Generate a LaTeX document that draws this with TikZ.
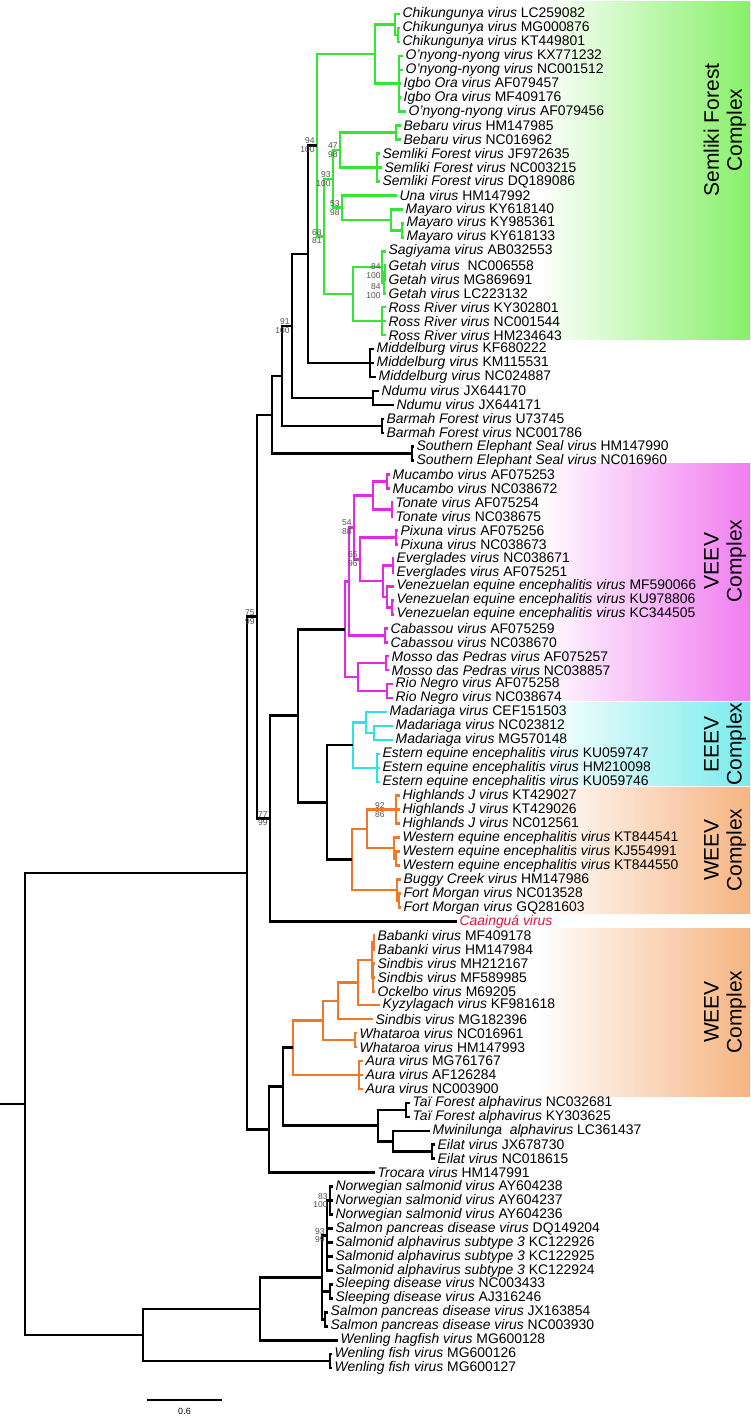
\documentclass[tikz,border=0pt]{standalone}
\usepackage{fontspec}
\setmainfont{Liberation Sans}
\usetikzlibrary{calc}

\definecolor{sfgreen}{RGB}{50,230,50}
\definecolor{veevpink}{RGB}{228,40,228}
\definecolor{eeevcyan}{RGB}{40,228,228}
\definecolor{weevorange}{RGB}{240,120,40}
\definecolor{newred}{RGB}{215,25,60}
\definecolor{sfbox}{RGB}{135,240,105}
\definecolor{veevbox}{RGB}{240,125,240}
\definecolor{eeevbox}{RGB}{120,235,235}
\definecolor{weevbox}{RGB}{245,180,130}
\definecolor{bootgray}{RGB}{80,80,80}

% clade: [colour]{name}{x}{first child}{last child}
\newcommand{\clade}[5][black]{%
  \path let \p1=(#4), \p2=(#5) in (#3pt, {0.5*\y1+0.5*\y2}) coordinate (#2);
  \draw[branch, #1] (#4) -| (#2) |- (#5);
}
% extra child of a clade
\newcommand{\twig}[3][black]{\draw[branch, #1] (#2 |- #3) -- (#3);}
% support values on the stem of a clade
\newcommand{\boot}[4][]{%
  \node[boot, anchor=south east, #1] (#2top) at (#2) {#3};
  \node[boot, anchor=north east, #1] (#2bot) at (#2) {#4};
}

\begin{document}
\begin{tikzpicture}[
    x=1pt, y=-1pt,
    branch/.style={line width=2.6pt},
    leaf/.style={anchor=west, inner sep=2.5pt, font=\fontsize{13.9}{14}\selectfont},
    boot/.style={inner sep=1.2pt, xshift=-1pt, text=bootgray, font=\fontsize{8.5}{9}\selectfont},
    cplx/.style={rotate=90, align=center, inner sep=0pt, font=\fontsize{21}{23}\selectfont}
]
    \useasboundingbox (0,0) rectangle (750,1418);

    % Complex boxes
    \shade[left color=white, right color=sfbox] (537,2) rectangle (750,339);
    \shade[left color=white, right color=veevbox] (537,463) rectangle (750,700);
    \shade[left color=white, right color=eeevbox] (537,702) rectangle (750,785);
    \shade[left color=white, right color=weevbox] (537,787) rectangle (750,913);
    \shade[left color=white, right color=weevbox] (537,928) rectangle (750,1096);

    \node[cplx] (sflab) at (725,130) {Semliki Forest\\Complex};
    \node[cplx] (veevlab) at (725,561) {VEEV\\Complex};
    \node[cplx] (eeevlab) at (725,744) {EEEV\\Complex};
    \node[cplx] (weevlab) at (725,850) {WEEV\\Complex};
    \node[cplx] (weevlabb) at (725,1012) {WEEV\\Complex};

    % Tips
    \foreach \i/\tx/\sp/\acc in {
        1/400/Chikungunya virus/LC259082,
        2/400/Chikungunya virus/MG000876,
        3/400/Chikungunya virus/KT449801,
        4/403/O’nyong-nyong virus/KX771232,
        5/403/O’nyong-nyong virus/NC001512,
        6/401/Igbo Ora virus/AF079457,
        7/401/Igbo Ora virus/MF409176,
        8/406/O’nyong-nyong virus/AF079456,
        9/401/Bebaru virus/HM147985,
        10/401/Bebaru virus/NC016962,
        11/380/Semliki Forest virus/JF972635,
        12/382/Semliki Forest virus/NC003215,
        13/380/Semliki Forest virus/DQ189086,
        14/397/Una virus/HM147992,
        15/403/Mayaro virus/KY618140,
        16/404/Mayaro virus/KY985361,
        17/404/Mayaro virus/KY618133,
        18/386/Sagiyama virus/AB032553,
        19/386/Getah virus/\ NC006558,
        20/386/Getah virus/MG869691,
        21/386/Getah virus/LC223132,
        22/386/Ross River virus/KY302801,
        23/386/Ross River virus/NC001544,
        24/386/Ross River virus/HM234643,
        25/374/Middelburg virus/KF680222,
        26/374/Middelburg virus/KM115531,
        27/376/Middelburg virus/NC024887,
        28/379/Ndumu virus/JX644170,
        29/394/Ndumu virus/JX644171,
        30/384/Barmah Forest virus/U73745,
        31/384/Barmah Forest virus/NC001786,
        32/414/Southern Elephant Seal virus/HM147990,
        33/414/Southern Elephant Seal virus/NC016960,
        34/390/Mucambo virus/AF075253,
        35/390/Mucambo virus/NC038672,
        36/393/Tonate virus/AF075254,
        37/393/Tonate virus/NC038675,
        38/398/Pixuna virus/AF075256,
        39/398/Pixuna virus/NC038673,
        40/394/Everglades virus/NC038671,
        41/394/Everglades virus/AF075251,
        42/394/Venezuelan equine encephalitis virus/MF590066,
        43/394/Venezuelan equine encephalitis virus/KU978806,
        44/394/Venezuelan equine encephalitis virus/KC344505,
        45/388/Cabassou virus/AF075259,
        46/388/Cabassou virus/NC038670,
        47/389/Mosso das Pedras virus/AF075257,
        48/389/Mosso das Pedras virus/NC038857,
        49/393/Rio Negro virus/AF075258,
        50/393/Rio Negro virus/NC038674,
        51/387/Madariaga virus/CEF151503,
        52/393/Madariaga virus/NC023812,
        53/393/Madariaga virus/MG570148,
        54/380/Estern equine encephalitis virus/KU059747,
        55/380/Estern equine encephalitis virus/HM210098,
        56/380/Estern equine encephalitis virus/KU059746,
        57/400/Highlands J virus/KT429027,
        58/400/Highlands J virus/KT429026,
        59/400/Highlands J virus/NC012561,
        60/400/Western equine encephalitis virus/KT844541,
        61/400/Western equine encephalitis virus/KJ554991,
        62/400/Western equine encephalitis virus/KT844550,
        63/401/Buggy Creek virus/HM147986,
        64/401/Fort Morgan virus/NC013528,
        65/401/Fort Morgan virus/GQ281603,
        67/375/Babanki virus/MF409178,
        68/375/Babanki virus/HM147984,
        69/375/Sindbis virus/MH212167,
        70/375/Sindbis virus/MF589985,
        71/375/Ockelbo virus/M69205,
        72/380/Kyzylagach virus/KF981618,
        73/373/Sindbis virus/MG182396,
        74/357/Whataroa virus/NC016961,
        75/357/Whataroa virus/HM147993,
        76/363/Aura virus/MG761767,
        77/363/Aura virus/AF126284,
        78/363/Aura virus/NC003900,
        79/410/Taï Forest alphavirus/NC032681,
        80/410/Taï Forest alphavirus/KY303625,
        81/430/Mwinilunga\ \ alphavirus/LC361437,
        82/435/Eilat virus/JX678730,
        83/435/Eilat virus/NC018615,
        84/375/Trocara virus/HM147991,
        85/333/Norwegian salmonid virus/AY604238,
        86/333/Norwegian salmonid virus/AY604237,
        87/333/Norwegian salmonid virus/AY604236,
        88/333/Salmon pancreas disease virus/DQ149204,
        89/333/Salmonid alphavirus subtype 3/KC122926,
        90/333/Salmonid alphavirus subtype 3/KC122925,
        91/333/Salmonid alphavirus subtype 3/KC122924,
        92/333/Sleeping disease virus/NC003433,
        93/333/Sleeping disease virus/AJ316246,
        94/328/Salmon pancreas disease virus/JX163854,
        95/328/Salmon pancreas disease virus/NC003930,
        96/338/Wenling hagfish virus/MG600128,
        97/332/Wenling fish virus/MG600126,
        98/332/Wenling fish virus/MG600127}{
        \pgfmathsetmacro{\ly}{14+(\i-1)*13.96}
        \coordinate (l\i) at (\tx,\ly);
        \node[leaf] (lab\i) at (l\i) {\textit{\sp} \acc};
    }
    \coordinate (l66) at (457,921.4);
    \node[leaf, text=newred] (lab66) at (l66) {\textit{Caainguá virus}};

    % Semliki Forest complex
    \clade[sfgreen]{cCHKb}{398}{l2}{l3}
    \clade[sfgreen]{cCHK}{395}{l1}{cCHKb}
    \clade[sfgreen]{cONN}{399}{l4}{l8}
    \twig[sfgreen]{cONN}{l5} \twig[sfgreen]{cONN}{l6} \twig[sfgreen]{cONN}{l7}
    \clade[sfgreen]{cCO}{375}{cCHK}{cONN}
    \clade[sfgreen]{cBEB}{396}{l9}{l10}
    \clade[sfgreen]{cSFV}{377}{l11}{l13}
    \twig[sfgreen]{cSFV}{l12}
    \clade[sfgreen]{cBS}{340}{cBEB}{cSFV}
    \clade[sfgreen]{cMAYb}{402}{l16}{l17}
    \clade[sfgreen]{cMAY}{391}{l15}{cMAYb}
    \clade[sfgreen]{cUM}{342}{l14}{cMAY}
    \clade[sfgreen]{cBSUM}{333}{cBS}{cUM}
    \clade[sfgreen]{cGa}{385}{l19}{l20}
    \clade[sfgreen]{cGb}{384}{cGa}{l21}
    \clade[sfgreen]{cSG}{382}{l18}{cGb}
    \clade[sfgreen]{cRR}{382}{l22}{l24}
    \twig[sfgreen]{cRR}{l23}
    \clade[sfgreen]{cGR}{353}{cSG}{cRR}
    \clade[sfgreen]{cSFC}{324}{cBSUM}{cGR}
    \clade[sfgreen]{cSF}{317}{cCO}{cSFC}

    % Middelburg to Southern Elephant Seal
    \clade{cMID}{370}{l25}{l27}
    \twig{cMID}{l26}
    \clade{cSM}{308}{cSF}{cMID}
    \clade{cND}{373}{l28}{l29}
    \clade{cSMN}{292}{cSM}{cND}
    \clade{cBF}{382}{l30}{l31}
    \clade{cSMNB}{282}{cSMN}{cBF}
    \clade{cSES}{412}{l32}{l33}
    \clade{cOLD}{272}{cSMNB}{cSES}

    % VEEV complex
    \clade[veevpink]{cMUC}{387}{l34}{l35}
    \clade[veevpink]{cTON}{392}{l36}{l37}
    \clade[veevpink]{cMT}{373}{cMUC}{cTON}
    \clade[veevpink]{cPIX}{396}{l38}{l39}
    \clade[veevpink]{cEVG}{393}{l40}{l41}
    \clade[veevpink]{cVEEb}{392}{l43}{l44}
    \clade[veevpink]{cVEE}{387}{l42}{cVEEb}
    \clade[veevpink]{cEV}{383}{cEVG}{cVEE}
    \clade[veevpink]{cPEV}{360}{cPIX}{cEV}
    \clade[veevpink]{cMTPEV}{354}{cMT}{cPEV}
    \clade[veevpink]{cCAB}{385}{l45}{l46}
    \clade[veevpink]{cVa}{349}{cMTPEV}{cCAB}
    \clade[veevpink]{cMOS}{386}{l47}{l48}
    \clade[veevpink]{cRN}{387}{l49}{l50}
    \clade[veevpink]{cMR}{358}{cMOS}{cRN}
    \clade[veevpink]{cVEEV}{345}{cVa}{cMR}

    % EEEV complex
    \clade[eeevcyan]{cMADb}{374}{l52}{l53}
    \clade[eeevcyan]{cMAD}{366}{l51}{cMADb}
    \clade[eeevcyan]{cEEE}{377}{l54}{l56}
    \twig[eeevcyan]{cEEE}{l55}
    \clade[eeevcyan]{cEEEV}{353}{cMAD}{cEEE}

    % WEEV complex
    \clade[weevorange]{cHJ}{396}{l57}{l59}
    \twig[weevorange]{cHJ}{l58}
    \clade[weevorange]{cWEEb}{396}{l61}{l62}
    \clade[weevorange]{cWEE}{394}{l60}{cWEEb}
    \clade[weevorange]{cHW}{367}{cHJ}{cWEE}
    \clade[weevorange]{cFMb}{399}{l64}{l65}
    \clade[weevorange]{cBFM}{397}{l63}{cFMb}
    \clade[weevorange]{cWEEV}{352}{cHW}{cBFM}

    \clade{cEW}{327}{cEEEV}{cWEEV}
    \clade{cVEW}{298}{cVEEV}{cEW}
    \clade{cVEWC}{270}{cVEW}{l66}
    \clade{cNW}{257}{cOLD}{cVEWC}

    % Sindbis group
    \clade[weevorange]{cBAB}{374}{l67}{l68}
    \clade[weevorange]{cSIN}{373}{l69}{l71}
    \twig[weevorange]{cSIN}{l70}
    \clade[weevorange]{cBSO}{372}{cBAB}{cSIN}
    \clade[weevorange]{cBSOK}{358}{cBSO}{l72}
    \clade[weevorange]{cBSOKS}{338}{cBSOK}{l73}
    \clade[weevorange]{cWHA}{355}{l74}{l75}
    \clade[weevorange]{cSW}{323}{cBSOKS}{cWHA}
    \clade[weevorange]{cAUR}{359}{l76}{l78}
    \twig[weevorange]{cAUR}{l77}
    \clade[weevorange]{cSINDB}{293}{cSW}{cAUR}

    \clade{cTAI}{406}{l79}{l80}
    \clade{cEIL}{432}{l82}{l83}
    \clade{cME}{393}{l81}{cEIL}
    \clade{cTME}{378}{cTAI}{cME}
    \clade{cST}{283}{cSINDB}{cTME}
    \clade{cSTT}{269}{cST}{l84}
    \clade{cNWS}{247}{cNW}{cSTT}

    % Fish viruses
    \clade{cNOR}{330}{l85}{l87}
    \twig{cNOR}{l86}
    \clade{cNS}{327}{cNOR}{l91}
    \twig{cNS}{l88} \twig{cNS}{l89} \twig{cNS}{l90}
    \clade{cSLP}{330}{l92}{l93}
    \clade{cSPD}{325}{l94}{l95}
    \clade{cSALM}{322}{cNS}{cSPD}
    \twig{cSALM}{cSLP}
    \clade{cSH}{260}{cSALM}{l96}
    \clade{cWF}{330}{l97}{l98}
    \clade{cFISH}{143}{cSH}{cWF}

    % Root
    \clade{cROOT}{25}{cNWS}{cFISH}
    \coordinate (origin) at (0,0);
    \draw[branch] (cROOT) -- (cROOT -| origin);

    % Support values
    \boot{cSF}{94}{100}
    \boot{cBS}{47}{98}
    \boot{cBSUM}{93}{100}
    \boot{cUM}{53}{98}
    \boot{cSFC}{68}{81}
    \boot[xshift=-2pt, yshift=1pt]{cGa}{84}{100}
    \boot[xshift=-1pt, yshift=-8pt]{cGb}{84}{100}
    \boot{cSMN}{91}{100}
    \boot{cMTPEV}{54}{88}
    \boot{cPEV}{65}{96}
    \boot{cNW}{75}{99}
    \boot[xshift=-9pt]{cHJ}{92}{86}
    \boot{cVEWC}{77}{99}
    \boot{cNOR}{83}{100}
    \boot{cNS}{93}{99}

    % Scale bar
    \coordinate (sbl) at (147,1400);
    \coordinate (sbr) at (222,1400);
    \draw[line width=2pt] (sbl) -- (sbr) node[midway, below=4pt, font=\fontsize{9}{10}\selectfont] (sblab) {0.6};

\end{tikzpicture}
\end{document}
